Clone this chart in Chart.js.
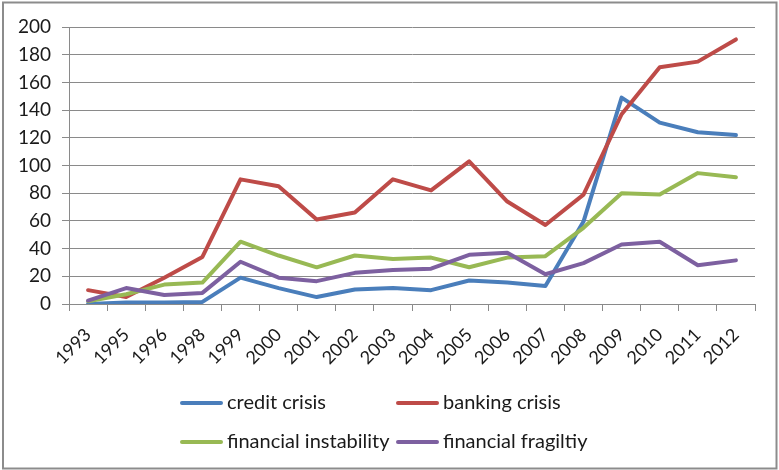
<!DOCTYPE html>
<html>
<head>
<meta charset="utf-8">
<script src="https://cdn.jsdelivr.net/npm/chart.js@4.4.1/dist/chart.umd.min.js"></script>
<style>
  html, body { margin: 0; padding: 0; background: #ffffff; }
  #wrap { width: 779px; height: 470px; position: relative; }
</style>
</head>
<body>
<div id="wrap"><canvas id="c" width="779" height="470"></canvas></div>
<script>
// Publication counts per year for each search term
const years = ['1993', '1995', '1996', '1998', '1999', '2000', '2001', '2002', '2003',
               '2004', '2005', '2006', '2007', '2008', '2009', '2010', '2011', '2012'];
const creditCrisis = [0, 1, 1, 1.5, 19, 11.5, 5, 10.5, 11.5, 10, 17, 15.5, 13, 59.5, 149, 131, 124, 122];
const bankingCrisis = [10, 5, 19, 34, 90, 85, 61, 66, 90, 82, 103, 74, 57, 79, 137, 171, 175, 191];
const financialInstability = [2, 7, 14, 15.5, 45, 35, 26.5, 35, 32.5, 33.5, 26.5, 33.5, 34.5, 55, 80, 79, 94.5, 91.5];
const financialFragility = [2.5, 11.5, 6.5, 8, 30.5, 19, 16.5, 22.5, 24.5, 25.5, 35.5, 37, 21.5, 29.5, 43, 45, 28, 31.5];
const yTicks = [0, 20, 40, 60, 80, 100, 120, 140, 160, 180, 200];

const seriesNames = ['credit crisis', 'banking crisis', 'financial instability', 'financial fragiltiy'];
const seriesValues = [creditCrisis, bankingCrisis, financialInstability, financialFragility];
const seriesColors = ['#4a7ebb', '#be4b48', '#98b954', '#7d60a0'];

const FONT = 'Lato, "Open Sans", sans-serif';
const GRID = '#8a8a8a';

// Two-column legend drawn under the axis, plus the outer frame
const frameAndLegend = {
  id: 'frameAndLegend',
  beforeDraw(chart) {
    const ctx = chart.ctx;
    ctx.save();
    ctx.fillStyle = '#ffffff';
    ctx.fillRect(0, 0, chart.width, chart.height);
    ctx.restore();
  },
  afterDraw(chart) {
    const ctx = chart.ctx;
    ctx.save();
    const colX = [180, 396];
    const rowY = [403, 442];
    ctx.font = '20px ' + FONT;
    ctx.textBaseline = 'middle';
    ctx.textAlign = 'left';
    chart.data.datasets.forEach((ds, i) => {
      const x = colX[i % 2];
      const y = rowY[Math.floor(i / 2)];
      ctx.strokeStyle = ds.borderColor;
      ctx.lineWidth = 4;
      ctx.lineCap = 'round';
      ctx.beginPath();
      ctx.moveTo(x + 2, y);
      ctx.lineTo(x + 41, y);
      ctx.stroke();
      ctx.fillStyle = '#1a1a1a';
      ctx.fillText(ds.label, x + 47, y);
    });
    ctx.strokeStyle = '#8c8c8c';
    ctx.lineWidth = 2;
    ctx.strokeRect(3, 2.5, chart.width - 5.5, chart.height - 4);
    ctx.restore();
  }
};

new Chart(document.getElementById('c'), {
  type: 'line',
  data: {
    labels: years,
    datasets: seriesNames.map((name, i) => ({
      label: name,
      data: seriesValues[i],
      borderColor: seriesColors[i],
      backgroundColor: seriesColors[i],
      borderWidth: 4,
      borderJoinStyle: 'round',
      borderCapStyle: 'round',
      pointRadius: 0,
      pointHoverRadius: 0,
      tension: 0,
      fill: false,
      order: seriesNames.length - i
    }))
  },
  options: {
    responsive: false,
    devicePixelRatio: 1,
    animation: false,
    layout: { padding: { left: 0, right: 24, top: 27, bottom: 0 } },
    plugins: {
      legend: { display: false },
      tooltip: { enabled: false }
    },
    scales: {
      x: {
        offset: true,
        grid: {
          offset: true,
          drawOnChartArea: false,
          drawTicks: true,
          tickLength: 7,
          color: GRID
        },
        border: { color: GRID, width: 1 },
        ticks: {
          autoSkip: false,
          maxRotation: 45,
          minRotation: 45,
          padding: 13,
          color: '#1a1a1a',
          font: { family: FONT, size: 18 }
        },
        afterFit(scale) { scale.height = 166; }
      },
      y: {
        min: 0,
        max: 200,
        afterBuildTicks(scale) { scale.ticks = yTicks.map(v => ({ value: v })); },
        grid: {
          color: GRID,
          drawTicks: true,
          tickLength: 7,
          lineWidth: 1
        },
        border: { color: GRID, width: 1 },
        ticks: {
          padding: 11,
          color: '#1a1a1a',
          font: { family: FONT, size: 19 }
        },
        afterFit(scale) { scale.width = 69; }
      }
    }
  },
  plugins: [frameAndLegend]
});
</script>
</body>
</html>
